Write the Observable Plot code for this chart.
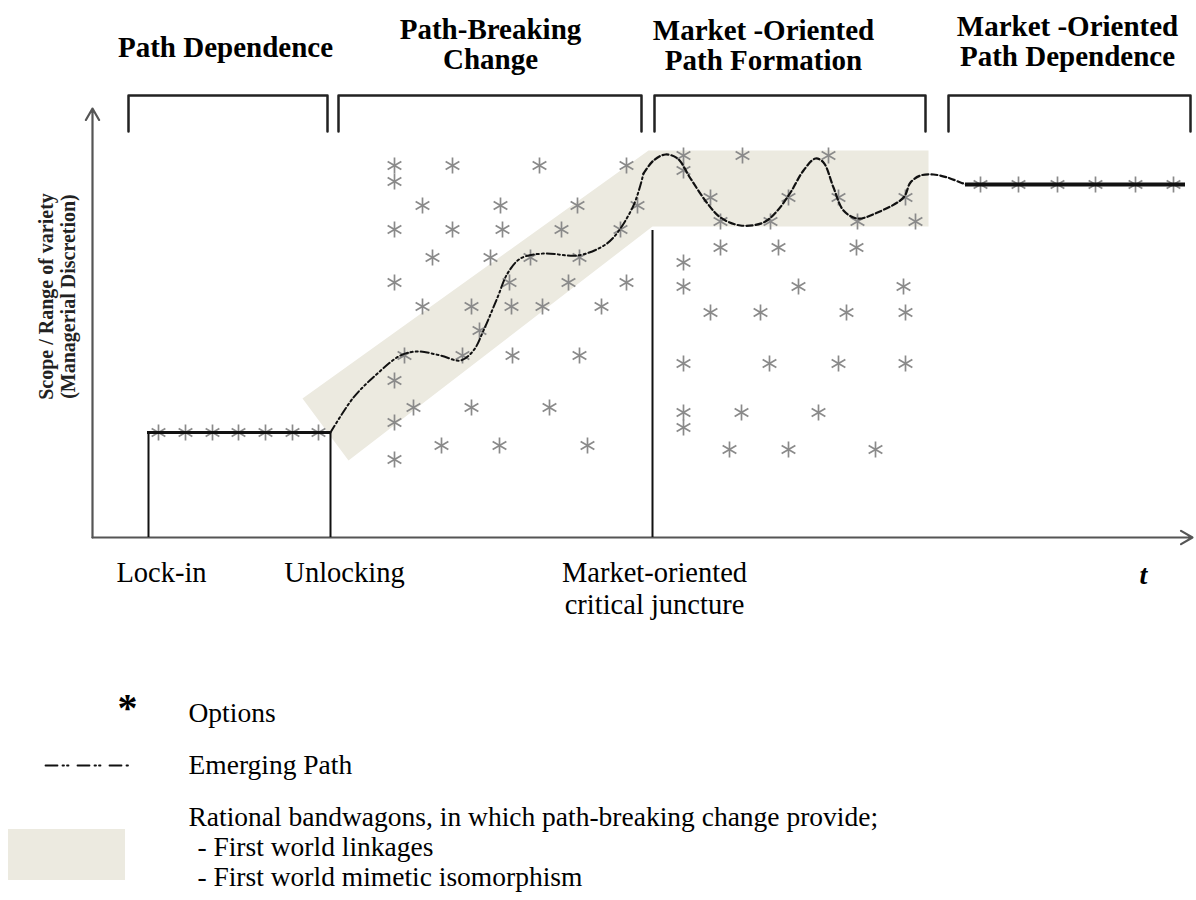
<!DOCTYPE html>
<html><head><meta charset="utf-8">
<script src="https://cdn.jsdelivr.net/npm/d3@7"></script>
<script src="https://cdn.jsdelivr.net/npm/@observablehq/plot@0.6"></script>
<style>body{margin:0;background:#fff}</style>
</head><body><div id="chart"></div>
<script>
// ---- Data (t = time along x axis, s = scope / range of variety) ----
const stageNames = ["Path Dependence", "Path-Breaking\nChange", "Market -Oriented\nPath Formation", "Market -Oriented\nPath Dependence"];
const stageStart = [36, 246, 562, 856];
const stageEnd = [235, 549, 833, 1098];

const eventLabels = ["Lock-in", "Unlocking", "Market-oriented\ncritical juncture"];
const eventT = [56, 238, 560];
const eventTop = [105, 105, 307];

const lockInLevel = 105;
const lockInOptionsT = [66, 93, 120, 146, 173, 200, 226];
const marketLevel = 353;
const marketOptionsT = [888, 926, 965, 1003, 1043, 1081];

const breakingOptions = [
  [302,372],[302,356],[360,372],[447,372],[534,372],
  [330,332],[408,332],[485,332],[545,332],
  [302,308],[360,308],[410,308],[469,308],[528,308],
  [340,280],[398,280],[438,280],[487,280],
  [302,255],[417,255],[476,255],[534,255],
  [330,231],[379,231],[419,231],[450,231],[509,231],
  [387,207],
  [312,182],[370,182],[420,182],[487,182],
  [302,157],
  [321,130],[379,130],[457,130],
  [302,115],
  [349,92],[407,92],[495,92],
  [302,78]
];
const formationOptions = [
  [591,382],[650,382],[736,382],
  [591,367],
  [618,340],[696,340],[746,340],[813,340],
  [628,316],[678,316],[765,316],[823,316],
  [628,290],[686,290],[764,290],
  [591,275],
  [591,251],[706,251],[811,251],
  [618,225],[668,225],[754,225],[813,225],
  [591,174],[677,174],[746,174],[813,174],
  [591,125],[591,110],[649,125],[726,125],
  [637,88],[696,88],[783,88]
];
const pathBreaking = [
  [238,105],[261,140],[285,164],[308,182],[325,186],[348,182],[368,177],[381,187],
  [391,207],[405,240],[415,264],[428,279],[451,284],[485,282],[508,290],[521,300],
  [541,332],[551,364]
];
const pathFormation = [
  [551,364],[561,377],[573,383],[585,379],[598,359],[615,334],[628,320],[648,312],
  [671,315],[685,327],[698,345],[711,367],[723,379],[731,375],[741,350],[751,327],
  [765,319],[785,325],[811,340],[818,355],[828,362],[841,363],[855,360],[868,355],[874,353]
];
const bandwagon = [[210,139],[556,387],[836,387],[836,311],[560,311],[256,77]];

const legendLabels = ["Options", "Emerging Path",
  "Rational bandwagons, in which path-breaking change provide;",
  " - First world linkages", " - First world mimetic isomorphism"];

// ---- derived tables ----
const pts = a => a.map(([t, s]) => ({t, s}));
const brackets = stageStart.flatMap((a, i) => [
  {t: a, s: 406, k: i}, {t: a, s: 442, k: i}, {t: stageEnd[i], s: 442, k: i}, {t: stageEnd[i], s: 406, k: i}
]);
const headerT = [133, 398, 671, 975];
const headerS = [490, 493, 492, 496];
const headers = stageNames.map((n, i) => ({n, t: headerT[i], s: headerS[i]}));
const eventLabelT = [69, 252, 562];
const events = eventLabels.map((n, i) => ({n, t: eventT[i], top: eventTop[i], lt: eventLabelT[i]}));

const band = "#ECEAE0", grey = "#8a8a8a", ink = "#111";
const serif = "Liberation Serif, Times New Roman, serif";

const chart = Plot.plot({
  width: 1196, height: 900, margin: 0,
  x: {domain: [-92, 1104], axis: null},
  y: {domain: [-363, 537], axis: null},
  style: {fontFamily: serif, background: "#fff", overflow: "visible"},
  marks: [
    // bandwagon band
    Plot.line(pts(bandwagon), {x: "t", y: "s", fill: band, stroke: "none"}),
    // axes
    Plot.arrow([{x1: 0, y1: 0, x2: 0, y2: 429}], {x1: "x1", y1: "y1", x2: "x2", y2: "y2", stroke: "#555", strokeWidth: 2.2, headLength: 9}),
    Plot.arrow([{x1: 0, y1: 0, x2: 1100, y2: 0}], {x1: "x1", y1: "y1", x2: "x2", y2: "y2", stroke: "#555", strokeWidth: 2.2, headLength: 9}),
    // event verticals
    Plot.ruleX(events, {x: "t", y1: 0, y2: "top", stroke: ink, strokeWidth: 2}),
    // stage brackets
    Plot.line(brackets, {x: "t", y: "s", z: "k", stroke: "#222", strokeWidth: 2.5}),
    // options
    Plot.dot(lockInOptionsT, {x: d => d, y: lockInLevel, symbol: "asterisk", r: 7.5, stroke: grey, strokeWidth: 1.7}),
    Plot.dot(marketOptionsT, {x: d => d, y: marketLevel, symbol: "asterisk", r: 7.5, stroke: grey, strokeWidth: 1.7}),
    Plot.dot(pts(breakingOptions), {x: "t", y: "s", symbol: "asterisk", r: 7.5, stroke: grey, strokeWidth: 1.7}),
    Plot.dot(pts(formationOptions), {x: "t", y: "s", symbol: "asterisk", r: 7.5, stroke: grey, strokeWidth: 1.7}),
    // levels
    Plot.ruleY([lockInLevel], {x1: 55, x2: 238, stroke: ink, strokeWidth: 3}),
    Plot.ruleY([marketLevel], {x1: 873, x2: 1093, stroke: ink, strokeWidth: 4}),
    // emerging path
    Plot.line(pts(pathBreaking), {x: "t", y: "s", curve: "catmull-rom", stroke: ink, strokeWidth: 2, strokeDasharray: "8,3,2,3,2,3"}),
    Plot.line(pts(pathFormation), {x: "t", y: "s", curve: "catmull-rom", stroke: ink, strokeWidth: 2.2, strokeDasharray: "6,3"}),
    // headers
    Plot.text(headers, {x: "t", y: "s", text: "n", fontSize: 29, fontWeight: "bold", lineHeight: 1.05, fill: "#000"}),
    // y label
    Plot.text(["Scope / Range of variety\n(Managerial Discretion)"], {x: -36, y: 241, text: d => d, rotate: -90, fontSize: 20, fontWeight: "bold", lineHeight: 1.1, fill: "#222"}),
    // event labels
    Plot.text(events, {x: "lt", y: -22, text: "n", fontSize: 28.5, lineAnchor: "top", lineHeight: 1.12, fill: "#000"}),
    Plot.text(["t"], {x: 1051, y: -38, text: d => d, fontSize: 28, fontWeight: "bold", fontStyle: "italic", fill: "#000"}),
    // legend
    Plot.text(["*"], {x: 35, y: -171, text: d => d, fontSize: 40, fontWeight: "bold", fill: "#000"}),
    Plot.line([{t: -47, s: -228}, {t: 36, s: -228}], {x: "t", y: "s", stroke: ink, strokeWidth: 1.8, strokeDasharray: "12,5,1.5,3,1.5,9"}),
    Plot.rect([{}], {x1: -84, x2: 33, y1: -292, y2: -343, fill: band}),
    Plot.text([legendLabels[0]], {x: 96, y: -176, text: d => d, fontSize: 27.5, textAnchor: "start", fill: "#000"}),
    Plot.text([legendLabels[1]], {x: 96, y: -228, text: d => d, fontSize: 27.5, textAnchor: "start", fill: "#000"}),
    Plot.text([legendLabels[2]], {x: 96, y: -280, text: d => d, fontSize: 27.5, textAnchor: "start", fill: "#000"}),
    Plot.text([legendLabels[3]], {x: 98, y: -310, text: d => d, fontSize: 27.5, textAnchor: "start", fill: "#000"}),
    Plot.text([legendLabels[4]], {x: 98, y: -340, text: d => d, fontSize: 27.5, textAnchor: "start", fill: "#000"})
  ]
});
document.getElementById("chart").append(chart);
</script></body></html>
